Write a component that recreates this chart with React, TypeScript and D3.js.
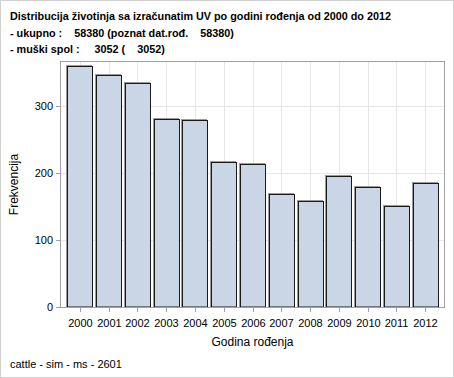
import React from "react";
import * as d3 from "d3";

const years = ["2000","2001","2002","2003","2004","2005","2006","2007","2008","2009","2010","2011","2012"];
const counts = [360, 346, 335, 280, 279, 216, 213, 168, 158, 195, 179, 151, 185];
const yTicks = [0, 100, 200, 300];
const titleLines = [
  "Distribucija životinja sa izračunatim UV po godini rođenja od 2000 do 2012",
  "- ukupno :    58380 (poznat dat.rođ.    58380)",
  "- muški spol :     3052 (    3052)",
];
const footnote = "cattle - sim - ms - 2601";
const xTitle = "Godina rođenja";
const yTitle = "Frekvencija";

const W = 454, H = 378;
const left = 61, right = 444, top = 62, bottom = 307;

export default function App() {
  React.useEffect(() => { document.body.style.margin = "0"; }, []);
  const x = d3.scaleBand<string>().domain(years).range([left, right]).paddingInner(0.132).paddingOuter(0.216);
  const y = d3.scaleLinear().domain([0, 365.7]).range([bottom, top]);
  const font = "'Liberation Sans', Arial, sans-serif";
  return (
    <svg width={W} height={H} style={{ position: "absolute", left: 0, top: 0, display: "block" }} fontFamily={font}>
      <rect x={0.5} y={0.5} width={W - 1} height={H - 1} fill="#fff" stroke="#d0d0d0" />
      {titleLines.map((t, i) => (
        <text key={i} x={10} y={20 + i * 16.5} fontSize={10.8} fontWeight="bold" fill="#000" style={{ whiteSpace: "pre" }}>{t}</text>
      ))}
      {/* grid */}
      {yTicks.map(t => (
        <line key={"gy" + t} x1={left} x2={right} y1={Math.round(y(t)) + 0.5} y2={Math.round(y(t)) + 0.5} stroke="#e6e6e6" />
      ))}
      {years.map(yr => {
        const cx = Math.round(x(yr)! + x.bandwidth() / 2) + 0.5;
        return <line key={"gx" + yr} x1={cx} x2={cx} y1={top} y2={bottom} stroke="#e6e6e6" />;
      })}
      {/* bars */}
      {years.map((yr, i) => {
        const bx = Math.round(x(yr)!) + 0.5;
        const bw = Math.round(x.bandwidth());
        const by = Math.round(y(counts[i])) + 0.5;
        return (
          <g key={"b" + yr}>
            <rect x={bx - 1} y={by - 1} width={bw} height={bottom - by + 1} fill="none" stroke="#9a9a9a" />
            <rect x={bx} y={by} width={bw} height={bottom - by} fill="#cad5e5" stroke="#1a1a1a" />
          </g>
        );
      })}
      {/* frame */}
      <rect x={left - 0.5} y={top - 0.5} width={right - left + 1} height={bottom - top + 1} fill="none" stroke="#a0a0a4" />
      {/* y axis */}
      {yTicks.map(t => (
        <g key={"ty" + t}>
          <line x1={left - 5} x2={left} y1={Math.round(y(t)) + 0.5} y2={Math.round(y(t)) + 0.5} stroke="#a0a0a4" />
          <text x={left - 8} y={y(t) + 4} fontSize={11} textAnchor="end" fill="#000">{t}</text>
        </g>
      ))}
      {/* x axis */}
      {years.map(yr => {
        const cx = Math.round(x(yr)! + x.bandwidth() / 2) + 0.5;
        return (
          <g key={"tx" + yr}>
            <line x1={cx} x2={cx} y1={bottom} y2={bottom + 5} stroke="#a0a0a4" />
            <text x={cx} y={327} fontSize={11} textAnchor="middle" fill="#000">{yr}</text>
          </g>
        );
      })}
      <text x={(left + right) / 2} y={346} fontSize={12} textAnchor="middle" fill="#000">{xTitle}</text>
      <text transform={`translate(18,${(top + bottom) / 2}) rotate(-90)`} fontSize={12} textAnchor="middle" fill="#000">{yTitle}</text>
      <text x={10} y={368} fontSize={11} fill="#000">{footnote}</text>
    </svg>
  );
}
